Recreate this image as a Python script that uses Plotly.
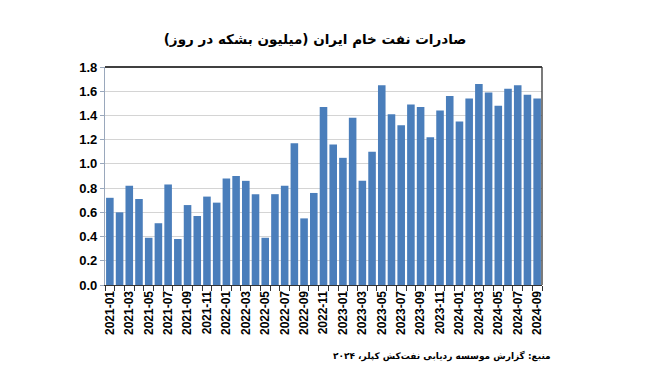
import plotly.graph_objects as go

months = ["2021-01","2021-02","2021-03","2021-04","2021-05","2021-06","2021-07","2021-08","2021-09","2021-10","2021-11","2021-12",
          "2022-01","2022-02","2022-03","2022-04","2022-05","2022-06","2022-07","2022-08","2022-09","2022-10","2022-11","2022-12",
          "2023-01","2023-02","2023-03","2023-04","2023-05","2023-06","2023-07","2023-08","2023-09","2023-10","2023-11","2023-12",
          "2024-01","2024-02","2024-03","2024-04","2024-05","2024-06","2024-07","2024-08","2024-09"]
exports = [0.72,0.60,0.82,0.71,0.39,0.51,0.83,0.38,0.66,0.57,0.73,0.68,
           0.88,0.90,0.86,0.75,0.39,0.75,0.82,1.17,0.55,0.76,1.47,1.16,
           1.05,1.38,0.86,1.10,1.65,1.41,1.32,1.49,1.47,1.22,1.44,1.56,
           1.35,1.54,1.66,1.59,1.48,1.62,1.65,1.57,1.54]
y_ticks = [0.0,0.2,0.4,0.6,0.8,1.0,1.2,1.4,1.6,1.8]
title_text = "صادرات نفت خام ایران (میلیون بشکه در روز)"
source_text = "منبع: گزارش موسسه ردیابی نفت‌کش کپلر، ۲۰۲۴"

idx = list(range(len(months)))
label_idx = idx[::2]
label_txt = months[::2]

fig = go.Figure(go.Bar(x=idx, y=exports, marker=dict(color="#4a7ebb", line=dict(width=0))))

fig.update_layout(
    width=659, height=392,
    margin=dict(l=105, r=117, t=67, b=107),
    paper_bgcolor="white", plot_bgcolor="white",
    bargap=0.22, showlegend=False,
    font=dict(family="Liberation Sans, Arial", color="black"),
    title=dict(text="<b>" + title_text + "</b>", x=0.478, xanchor="center", y=0.9, yanchor="middle",
               font=dict(size=13.5, family="DejaVu Sans", color="black")),
)
fig.update_xaxes(
    range=[-0.5, len(months) - 0.5],
    tickmode="array", tickvals=label_idx, ticktext=label_txt, tickangle=-90,
    ticks="", showgrid=False, zeroline=False,
    tickfont=dict(size=12, family="Liberation Sans, Arial", color="black", weight="bold"),
    showline=True, linecolor="#333333", linewidth=1.3,
    minor=dict(tickmode="linear", tick0=-0.5, dtick=1, ticks="outside", ticklen=5, tickcolor="#333333", tickwidth=1.2, showgrid=False),
)
fig.update_yaxes(
    range=[0, 1.8], tickmode="array", tickvals=y_ticks, ticktext=[f"{v:.1f}" for v in y_ticks],
    showgrid=True, gridcolor="#d4d4d4", gridwidth=1, zeroline=False,
    showline=True, linecolor="#9aa8bc", linewidth=1.2,
    ticks="outside", ticklen=4, tickcolor="#9aa8bc",
    tickfont=dict(size=13, family="Liberation Sans, Arial", color="black", weight="bold"),
)
fig.add_shape(type="line", xref="paper", yref="paper", x0=0, x1=1, y0=1, y1=1, line=dict(color="black", width=1.5))
fig.add_shape(type="line", xref="paper", yref="paper", x0=1, x1=1, y0=0, y1=1, line=dict(color="#333333", width=1.3))
fig.add_annotation(text="<b>" + source_text + "</b>", xref="paper", yref="paper", x=1.025, y=-0.325,
                   xanchor="right", yanchor="middle", showarrow=False,
                   font=dict(size=9, family="DejaVu Sans", color="black"))

fig.write_html("out.html", config={"displayModeBar": False},
               post_script="document.body.style.margin='0';document.body.style.padding='0';")
